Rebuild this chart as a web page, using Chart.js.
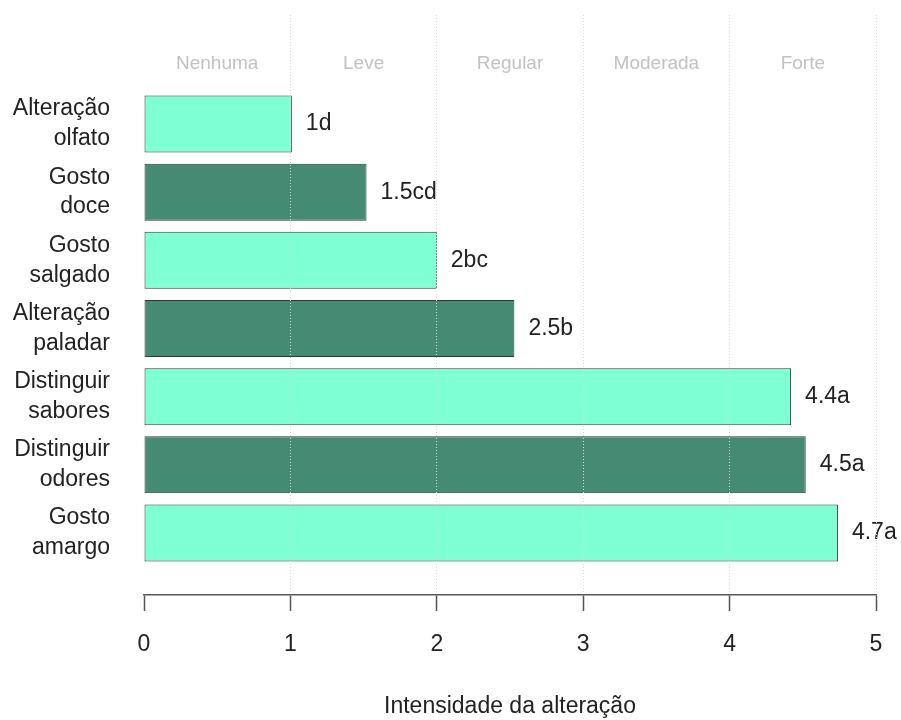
<!DOCTYPE html>
<html>
<head>
<meta charset="utf-8">
<script src="https://cdn.jsdelivr.net/npm/chart.js@4/dist/chart.umd.min.js"></script>
<style>
  html, body { margin: 0; padding: 0; background: #fff; }
  #wrap { width: 901px; height: 720px; }
</style>
</head>
<body>
<div id="wrap"><canvas id="chart" width="901" height="720"></canvas></div>
<script>
// data
const categories = [
    ['Alteração', 'olfato'], ['Gosto', 'doce'], ['Gosto', 'salgado'], ['Alteração', 'paladar'],
    ['Distinguir', 'sabores'], ['Distinguir', 'odores'], ['Gosto', 'amargo']
];
const values = [1.01, 1.52, 2.0, 2.53, 4.42, 4.52, 4.74];
const valueLabels = ['1d', '1.5cd', '2bc', '2.5b', '4.4a', '4.5a', '4.7a'];
const levels = ['Nenhuma', 'Leve', 'Regular', 'Moderada', 'Forte'];
const xTicks = [0, 1, 2, 3, 4, 5];

const FONT = "'Liberation Sans', Arial, sans-serif";
const light = '#7fffd4', dark = '#458b74';

const textPlugin = {
    id: 'textPlugin',
    afterDatasetsDraw(chart) {
        const ctx = chart.ctx, xs = chart.scales.x, ys = chart.scales.y, area = chart.chartArea;
        ctx.save();
        // category names of the scale, top row
        ctx.font = '19px ' + FONT; ctx.fillStyle = '#c2c2c2';
        ctx.textAlign = 'center'; ctx.textBaseline = 'middle';
        levels.forEach((t, i) => ctx.fillText(t, xs.getPixelForValue(i + 0.5), area.top + 49));
        // value + letter labels
        ctx.font = '23px ' + FONT; ctx.fillStyle = '#222'; ctx.textAlign = 'left';
        values.forEach((v, i) => ctx.fillText(valueLabels[i], xs.getPixelForValue(v) + 14, ys.getPixelForValue(i + 1)));
        ctx.restore();
    }
};

new Chart(document.getElementById('chart'), {
    type: 'bar',
    data: {
        datasets: [{
            data: values.map((v, i) => ({ x: v, y: i + 1 })),
            backgroundColor: values.map((_, i) => i % 2 === 0 ? light : dark),
            borderColor: '#2e3a35',
            borderWidth: 1,
            borderSkipped: false,
            categoryPercentage: 1,
            barPercentage: 0.836
        }]
    },
    options: {
        indexAxis: 'y',
        responsive: false,
        animation: false,
        layout: { padding: { top: 15, right: 25, left: 10, bottom: 0 } },
        plugins: { legend: { display: false }, tooltip: { enabled: false } },
        scales: {
            x: {
                type: 'linear', min: 0, max: 5, offset: false,
                afterBuildTicks: s => { s.ticks = xTicks.map(v => ({ value: v })); },
                afterFit: s => { s.height = 125; s.paddingLeft = 0; s.paddingRight = 0; },
                ticks: { color: '#222', font: { family: FONT, size: 23 }, padding: 20, maxRotation: 0 },
                grid: {
                    z: 1,
                    color: c => (c.tick && c.tick.value === 0) ? 'rgba(0,0,0,0)' : '#d9d9d9',
                    lineWidth: 1,
                    tickColor: '#555',
                    tickLength: 16,
                    tickWidth: 1.5
                },
                border: { display: true, z: 2, color: '#555', width: 1.5, dash: [1, 2] },
                title: { display: true, text: 'Intensidade da alteração', color: '#222', font: { family: FONT, size: 23 }, padding: { top: 0, bottom: 0 } }
            },
            y: {
                type: 'linear', reverse: true, min: -0.6, max: 7.91, offset: false,
                afterBuildTicks: s => { s.ticks = categories.map((_, i) => ({ value: i + 1 })); },
                afterFit: s => { s.width = 134; s.paddingTop = 0; s.paddingBottom = 0; },
                ticks: {
                    color: '#222', font: { family: FONT, size: 23, lineHeight: 1.3 }, padding: 34,
                    callback: (v) => categories[v - 1] || ''
                },
                grid: { display: false, drawTicks: false },
                border: { display: false }
            }
        }
    },
    plugins: [textPlugin]
});
</script>
</body>
</html>
